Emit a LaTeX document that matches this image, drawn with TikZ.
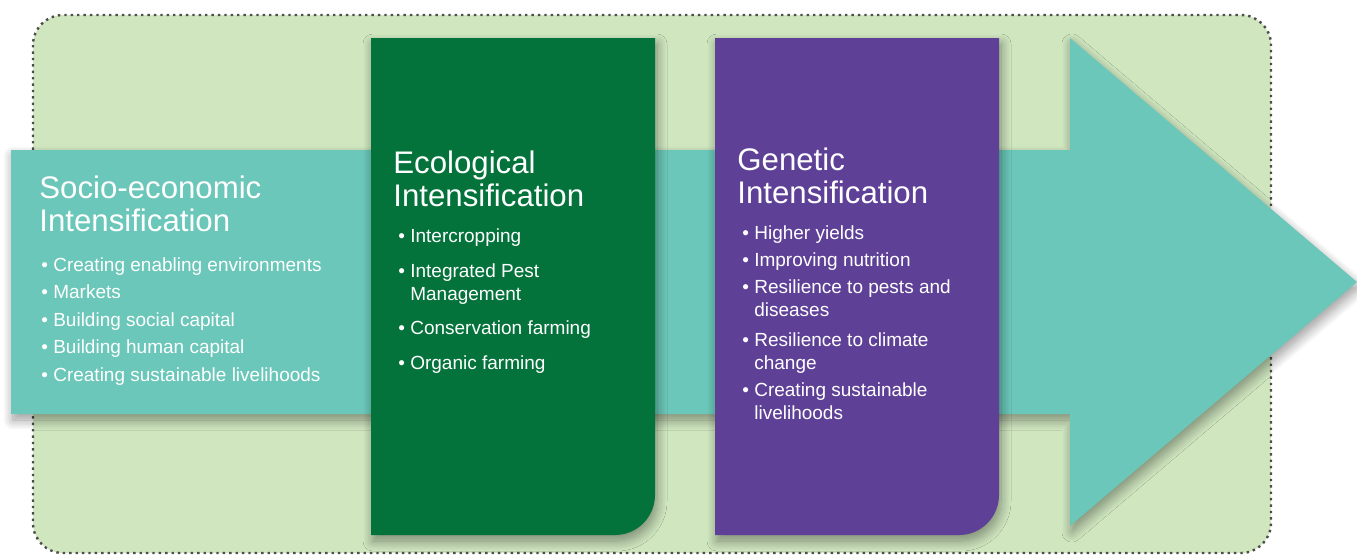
\documentclass[tikz,border=0pt]{standalone}
\usepackage{fontspec}
\setmainfont{Liberation Sans}
\usetikzlibrary{shadows.blur}

\definecolor{bgGreen}{HTML}{CFE6BF}
\definecolor{arrowTeal}{HTML}{6BC7B9}
\definecolor{ecoGreen}{HTML}{03733B}
\definecolor{genPurple}{HTML}{5E4197}

\tikzset{
  heading/.style={text=white, font=\fontsize{15.6}{16.5}\selectfont, align=left, inner sep=0pt, anchor=north west},
  item/.style={text=white, font=\fontsize{9.5}{11.7}\selectfont, align=left, inner sep=0pt, anchor=north west},
  softshadow/.style={blur shadow={shadow xshift=1pt, shadow yshift=-3pt, shadow blur radius=5pt, shadow blur steps=12, shadow opacity=40}}
}
\newcommand{\bul}{\textbullet\ }
\newcommand{\hang}{\hphantom{\textbullet\ }}

\begin{document}
\begin{tikzpicture}[x=0.5pt,y=-0.5pt]
\useasboundingbox (0,0) rectangle (1357,554);

% frame
\fill[bgGreen, rounded corners=15pt] (33,15) rectangle (1271,553);
\draw[dotted, line width=1.2pt, black!70, rounded corners=15pt] (33,15) rectangle (1271,553);

% big arrow
\fill[arrowTeal, softshadow] (11,150) -- (1070,150) -- (1070,38) -- (1357,282)
  -- (1070,526) -- (1070,414) -- (11,414) -- cycle;

% two panels
\fill[ecoGreen, softshadow] (371,38) -- (655,38) [rounded corners=20pt] -- (655,535) [sharp corners] -- (371,535) -- cycle;
\fill[genPurple, softshadow] (715,38) -- (999,38) [rounded corners=20pt] -- (999,535) [sharp corners] -- (715,535) -- cycle;

% socio-economic
\node[heading] (socio) at (39,175) {Socio-economic\\Intensification};
\node[item] (s1) at (41,257) {\bul Creating enabling environments};
\node[item] (s2) at (41,284) {\bul Markets};
\node[item] (s3) at (41,312) {\bul Building social capital};
\node[item] (s4) at (41,339) {\bul Building human capital};
\node[item] (s5) at (41,367) {\bul Creating sustainable livelihoods};

% ecological
\node[heading] (eco) at (393,150) {Ecological\\Intensification};
\node[item] (e1) at (398,228) {\bul Intercropping};
\node[item] (e2) at (398,263) {\bul Integrated Pest\\\hang Management};
\node[item] (e3) at (398,320) {\bul Conservation farming};
\node[item] (e4) at (398,355) {\bul Organic farming};

% genetic
\node[heading] (gen) at (737,147) {Genetic\\Intensification};
\node[item] (g1) at (742,225) {\bul Higher yields};
\node[item] (g2) at (742,252) {\bul Improving nutrition};
\node[item] (g3) at (742,279) {\bul Resilience to pests and\\\hang diseases};
\node[item] (g4) at (742,332) {\bul Resilience to climate\\\hang change};
\node[item] (g5) at (742,382) {\bul Creating sustainable\\\hang livelihoods};

\end{tikzpicture}
\end{document}
